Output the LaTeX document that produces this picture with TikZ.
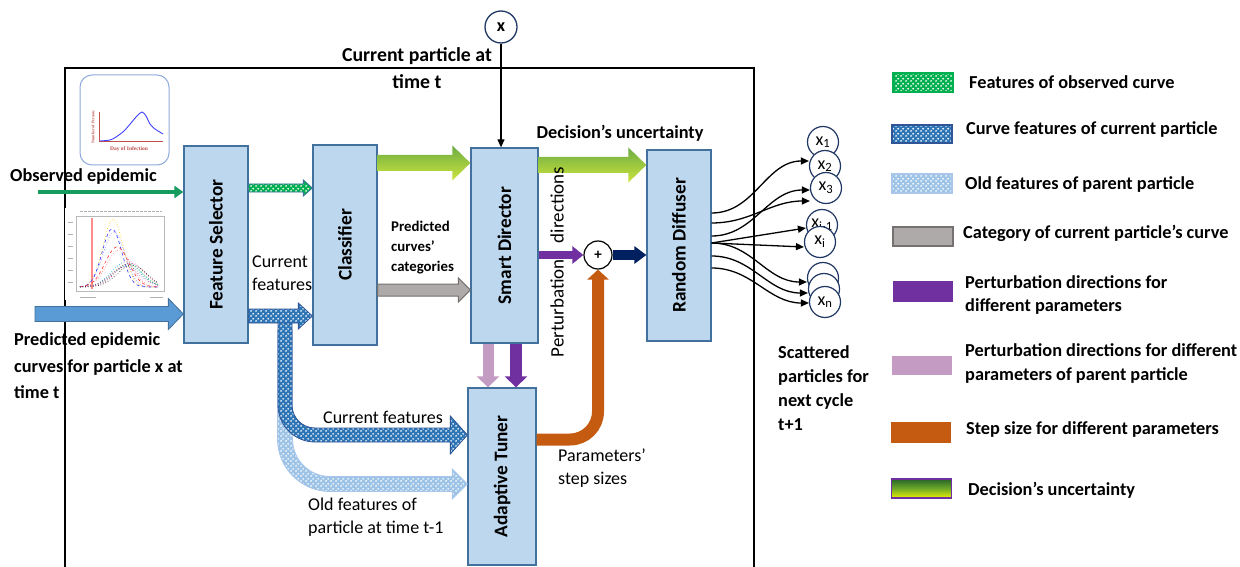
\documentclass[tikz,border=0pt]{standalone}
\usepackage{fontspec}
\setmainfont{Carlito}
\newfontfamily\tinyserif{Liberation Serif}
\usetikzlibrary{arrows.meta,calc,patterns}

\pgfdeclarepatternformonly{bubbles}{\pgfqpoint{0pt}{0pt}}{\pgfqpoint{5pt}{5pt}}{\pgfqpoint{5pt}{5pt}}{%
  \pgfpathcircle{\pgfqpoint{1.25pt}{1.25pt}}{1.1pt}%
  \pgfpathcircle{\pgfqpoint{3.75pt}{3.75pt}}{1.1pt}%
  \pgfusepath{fill}}

\definecolor{boxfill}{RGB}{189,215,238}
\definecolor{boxedge}{RGB}{65,113,156}
\definecolor{dkblue}{RGB}{46,117,182}
\definecolor{dkedge}{RGB}{47,85,151}
\definecolor{ltblue}{RGB}{157,195,230}
\definecolor{ltedge}{RGB}{170,199,235}
\definecolor{grn}{RGB}{0,176,80}
\definecolor{obsgreen}{RGB}{22,155,95}
\definecolor{bigblue}{RGB}{91,155,213}
\definecolor{grayf}{RGB}{174,170,170}
\definecolor{graye}{RGB}{118,113,113}
\definecolor{purp}{RGB}{112,48,160}
\definecolor{pinkc}{RGB}{195,155,195}
\definecolor{orng}{RGB}{197,90,17}
\definecolor{navyc}{RGB}{0,32,96}
\definecolor{navyb}{RGB}{31,56,100}
\definecolor{gtop}{RGB}{108,172,68}
\definecolor{gbot}{RGB}{205,228,60}
\definecolor{lgtop}{RGB}{40,100,40}
\definecolor{lgmid}{RGB}{110,170,40}
\definecolor{lgbot}{RGB}{235,240,0}
\definecolor{thumbedge}{RGB}{143,170,220}
\definecolor{axred}{RGB}{192,80,77}

% horizontal block arrow: #1 style, #2 start, #3 end, #4 shaft half, #5 head half, #6 head length
\newcommand\harrowpoly[6]{%
  \path[#1] let \p1=#2, \p2=#3 in
    (\x1,\y1+#4) -- (\x2-#6,\y1+#4) -- (\x2-#6,\y1+#5) -- (\x2,\y1)
    -- (\x2-#6,\y1-#5) -- (\x2-#6,\y1-#4) -- (\x1,\y1-#4) -- cycle;}

\begin{document}
\begin{tikzpicture}[x=1pt,y=-1pt,
  blk/.style={rectangle, draw=boxedge, fill=boxfill, line width=1.3pt, inner sep=0pt},
  lb/.style={font=\fontsize{18.3}{24}\selectfont\bfseries, inner sep=0pt, align=left},
  bl/.style={font=\fontsize{19.3}{24}\selectfont\bfseries, inner sep=0pt},
  tx/.style={font=\fontsize{18}{23}\selectfont, inner sep=0pt, align=left},
  sb/.style={font=\fontsize{14.8}{20}\selectfont\bfseries, inner sep=0pt, align=left},
  pdark/.style={preaction={fill=dkblue}, pattern=bubbles, pattern color=white, draw=dkedge, line width=0.8pt},
  plight/.style={preaction={fill=ltblue}, pattern=bubbles, pattern color=white, draw=ltedge, line width=0.8pt},
  pgreen/.style={preaction={fill=grn}, pattern=bubbles, pattern color=white, draw=boxedge, line width=0.8pt},
  gshade/.style={top color=gtop, bottom color=gbot},
  pc/.style={circle, draw=navyb, fill=white, line width=1.2pt, minimum size=31pt, inner sep=0pt, font=\fontsize{18}{18}\selectfont},
  pa/.style={-{Triangle[length=8pt,width=7pt]}, line width=1.3pt, black},
  lgbox/.style={rectangle, minimum width=60pt, inner sep=0pt, line width=1.2pt}
]
\useasboundingbox (0,0) rectangle (1240,567);
\fill[white] (0,0) rectangle (1240,567);

% frame
\draw[line width=1.2pt] (65,567) -- (65,68) -- (754,68) -- (754,567);

% thumbnail 1
\draw[thumbedge, fill=white, line width=1pt, rounded corners=12pt] (80,75) rectangle (169,165);
\draw[axred, line width=1pt] (99,112) -- (99,142) -- (163,142);
\draw[blue!75, line width=0.9pt] plot[smooth] coordinates {(100,141) (110,140) (116,137) (124,131) (131,123) (137,116) (142,112) (146,116) (150,124) (155,129) (163,134)};
\node[text=axred, font=\tinyserif\fontsize{4}{4}\selectfont\bfseries, rotate=90, inner sep=0pt] (nopT) at (93,127) {Number of Persons};
\node[text=axred, font=\tinyserif\fontsize{5.5}{5.5}\selectfont\bfseries, inner sep=0pt] (doiT) at (129,149) {Day of Infection};

% thumbnail 2 (plot)
\fill[white] (65,208) rectangle (172,300);
\draw[gray!55, line width=0.4pt] (76,216) rectangle (164,291);
\draw[gray!60, line width=1pt, dash pattern=on 3pt off 1pt] (80,211.5) -- (162,211.5);
\draw[gray!60, line width=0.9pt] (80,297) -- (96,297) (150,297) -- (163,297);
\foreach \yy in {222,234,246,258,270,282} \draw[gray!60, line width=0.8pt] (68,\yy) -- (73,\yy);
\draw[red!45, line width=1.3pt] (92,218) -- (92,289);
\draw[yellow!70!orange, dotted, line width=0.7pt] plot[domain=80:158,samples=50,smooth] (\x,{287-68*exp(-((\x-113)^2)/200)});
\draw[blue!80, dashed, line width=0.6pt] plot[domain=80:158,samples=50,smooth] (\x,{287-58*exp(-((\x-112)^2)/190)});
\draw[blue!60, dotted, line width=0.6pt] plot[domain=80:158,samples=50,smooth] (\x,{287-55*exp(-((\x-114)^2)/230)});
\draw[red!80, dashed, line width=0.6pt] plot[domain=80:158,samples=50,smooth] (\x,{287-40*exp(-((\x-117)^2)/280)});
\draw[red!60, dotted, line width=0.6pt] plot[domain=80:158,samples=50,smooth] (\x,{287-37*exp(-((\x-119)^2)/300)});
\foreach \pk/\hh/\cc in {126/25/cyan, 128/23/green!70!black, 130/24/magenta, 127/21/teal, 132/22/black, 129/26/pink, 125/20/violet} {
  \draw[\cc, dotted, line width=0.6pt] plot[domain=80:158,samples=50,smooth] (\x,{287-\hh*exp(-((\x-\pk)^2)/420)});
}

% main boxes
\node[blk, minimum width=64pt, minimum height=197pt] (fs) at (216,244.5) {};
\node[blk, minimum width=64pt, minimum height=200pt] (cl) at (345,245) {};
\node[blk, minimum width=67pt, minimum height=195pt] (sd) at (504.5,245.5) {};
\node[blk, minimum width=64pt, minimum height=191pt] (rd) at (679,245.5) {};
\node[blk, minimum width=68pt, minimum height=177pt] (at) at (502,476.5) {};
\node[bl, rotate=90] (fsT) at (fs.center) {Feature Selector};
\node[bl, rotate=90] (clT) at (cl.center) {Classifier};
\node[bl, rotate=90] (sdT) at (sd.center) {Smart Director};
\node[bl, rotate=90] (rdT) at (rd.center) {Random Diffuser};
\node[bl, rotate=90] (atT) at (at.center) {Adaptive Tuner};

% current particle x
\node[circle, draw=navyb, fill=white, line width=1.3pt, minimum size=32pt, inner sep=0pt, font=\fontsize{18}{18}\selectfont\bfseries] (xc) at (501,27) {x};
\draw[line width=1.2pt, -{Triangle[length=8pt,width=7pt]}] (xc.south) -- (xc.south |- sd.north);

% plus
\node[circle, draw=black, fill=white, line width=1.2pt, minimum size=28pt, inner sep=0pt, font=\fontsize{15}{15}\selectfont\bfseries] (plus) at (598,255) {+};

% inputs
\coordinate (obsS) at (38,192);
\coordinate (predS) at (35,314);
\draw[obsgreen, line width=4.5pt, -{Triangle[length=9pt,width=12pt]}] (obsS) -- (obsS -| fs.west);
\harrowpoly{fill=bigblue, draw=boxedge, line width=0.8pt}{(predS)}{(fs.west)}{7.5pt}{15.5pt}{15pt}

% curved feature arrows to adaptive tuner
\coordinate (ltS) at (285,330);
\coordinate (dkS) at (285,318);
\path[plight] let \p1=(ltS), \p2=([yshift=-7.5pt]at.west) in
  (\x1-7.5pt,\y1) -- (\x1-7.5pt,\y2+45pt) arc[start angle=180,end angle=270,radius=52.5pt]
  -- (\x2-15pt,\y2-7.5pt) -- (\x2-15pt,\y2-15pt) -- (\x2,\y2) -- (\x2-15pt,\y2+15pt) -- (\x2-15pt,\y2+7.5pt)
  -- (\x1+45pt,\y2+7.5pt) arc[start angle=270,end angle=180,radius=37.5pt] -- (\x1+7.5pt,\y1) -- cycle;
\path[pdark] let \p1=(dkS), \p2=([yshift=41.5pt]at.west) in
  (\x1-7pt,\y1) -- (\x1-7pt,\y2+30pt) arc[start angle=180,end angle=270,radius=37pt]
  -- (\x2-17pt,\y2-7pt) -- (\x2-17pt,\y2-19pt) -- (\x2,\y2) -- (\x2-17pt,\y2+19pt) -- (\x2-17pt,\y2+7pt)
  -- (\x1+30pt,\y2+7pt) arc[start angle=270,end angle=180,radius=23pt] -- (\x1+7pt,\y1) -- cycle;

% feature selector -> classifier
\harrowpoly{pgreen}{([yshift=56.5pt]fs.east)}{(cl.west)}{4pt}{8pt}{9pt}
\harrowpoly{pdark}{([yshift=-71.5pt]fs.east)}{(cl.west)}{7pt}{13pt}{14pt}

% classifier -> smart director
\harrowpoly{gshade}{([yshift=82pt]cl.east)}{(sd.west)}{8pt}{17.5pt}{18pt}
\harrowpoly{fill=grayf, draw=graye, line width=1pt}{([yshift=-45pt]cl.east)}{(sd.west)}{6pt}{12pt}{12pt}

% smart director -> random diffuser
\harrowpoly{gshade}{([yshift=80.5pt]sd.east)}{(rd.west)}{8pt}{17.5pt}{18pt}
\draw[purp, line width=8pt, -{Triangle[length=11pt,width=17pt]}] (sd.east |- plus.west) -- (plus.west);
\draw[navyc, line width=10pt, -{Triangle[length=12pt,width=17pt]}] (plus.east) -- (plus.east -| rd.west);

% smart director -> adaptive tuner
\draw[pinkc, line width=11pt, -{Triangle[length=11pt,width=22pt]}] ([xshift=-16.5pt]sd.south) -- ([xshift=-16.5pt]sd.south |- at.north);
\draw[purp, line width=12pt, -{Triangle[length=11pt,width=22pt]}] ([xshift=11.5pt]sd.south) -- ([xshift=11.5pt]sd.south |- at.north);

% adaptive tuner -> plus
\draw[orng, line width=12pt, rounded corners=28pt, -{Triangle[length=10pt,width=21pt]}] ([yshift=37pt]at.east) -| (plus.south);

% particles
\node[pc] (p1) at (823,142) {x\textsubscript{1}};
\node[pc] (p2) at (825,166) {x\textsubscript{2}};
\node[pc] (p3) at (826,188) {x\textsubscript{3}};
\node[pc] (p4) at (822,225) {x\textsubscript{i-1}};
\node[pc] (p5) at (820,242) {x\textsubscript{i}};
\node[pc] (p6) at (823,278) {};
\node[pc] (p7) at (824,289) {};
\node[pc] (p8) at (825,302) {x\textsubscript{n}};

\draw[pa] ([yshift=32.5pt]rd.east) to[out=0,in=180] ([yshift=5pt]p2.west);
\draw[pa] ([yshift=22.5pt]rd.east) to[out=0,in=180] ([yshift=-13pt]p3.west);
\draw[pa] ([yshift=9.5pt]rd.east) to[out=0,in=180] ([yshift=-2pt]p3.west);
\draw[pa] ([yshift=2.5pt]rd.east) -- ([yshift=-3pt]p4.west);
\draw[pa] ([yshift=2.5pt]rd.east) -- ([yshift=-5pt]p5.west);
\draw[pa] ([yshift=2.5pt]rd.east) to[out=0,in=180] ([yshift=-4pt]p6.west);
\draw[pa] ([yshift=-10.5pt]rd.east) to[out=0,in=180] ([yshift=-4pt]p7.west);
\draw[pa] ([yshift=-22.5pt]rd.east) to[out=0,in=180] ([yshift=-1pt]p8.west);

% labels
\node[lb, anchor=west] (obsT) at (10,177) {Observed epidemic};
\node[lb, anchor=west, font=\fontsize{18.3}{26.5}\selectfont\bfseries] (predT) at (14,366) {Predicted epidemic\\curves for particle x at\\time t};
\node[lb, align=center, font=\fontsize{19.8}{27}\selectfont\bfseries] (curT) at (417,68.5) {Current particle at\\time t};
\node[lb] (decT) at (620,133) {Decision’s uncertainty};
\node[tx, anchor=west] (cf1T) at (252,273) {Current\\features};
\node[sb, anchor=west] (pccT) at (391,248) {Predicted\\curves’\\categories};
\node[tx, rotate=90, font=\fontsize{19}{19}\selectfont] (pdT) at (557,262) {Perturbation\hspace{16pt}directions};
\node[tx, anchor=west] (pssT) at (558,468.5) {Parameters’\\step sizes};
\node[tx, anchor=west] (cf2T) at (323,417) {Current features};
\node[tx, anchor=west] (oldT) at (308,517) {Old features of\\particle at time t-1};
\node[lb, anchor=west] (scT) at (778,388) {Scattered\\particles for\\next cycle\\t+1};

% legend
\node[lgbox, minimum height=19pt, preaction={fill=grn}, pattern=bubbles, pattern color=white, draw=grn] (lg1) at (923,82.5) {};
\node[lgbox, minimum height=18pt, preaction={fill=dkblue}, pattern=bubbles, pattern color=white, draw=dkedge] (lg2) at (922,134) {};
\node[lgbox, minimum height=19pt, preaction={fill=ltblue}, pattern=bubbles, pattern color=white, draw=ltedge] (lg3) at (922,183.5) {};
\node[lgbox, minimum height=19pt, fill=grayf, draw=graye, line width=1.6pt] (lg4) at (923,236.5) {};
\node[lgbox, minimum height=21pt, fill=purp] (lg5) at (923,291.5) {};
\node[lgbox, minimum height=19pt, fill=pinkc] (lg6) at (922,365.5) {};
\node[lgbox, minimum height=21pt, fill=orng] (lg7) at (920.5,432.5) {};
\node[lgbox, minimum height=19pt, top color=lgtop, bottom color=lgbot, middle color=lgmid, draw=purp] (lg8) at (921.5,488.5) {};

\node[lb, anchor=west] (lt1) at (969,82) {Features of observed curve};
\node[lb, anchor=west] (lt2) at (966,130) {Curve features of current particle};
\node[lb, anchor=west] (lt3) at (965,185) {Old features of parent particle};
\node[lb, anchor=west] (lt4) at (963,233) {Category of current particle’s curve};
\node[lb, anchor=west, font=\fontsize{18.3}{23.5}\selectfont\bfseries] (lt5) at (965,295) {Perturbation directions for\\different parameters};
\node[lb, anchor=west, font=\fontsize{18.3}{23.5}\selectfont\bfseries] (lt6) at (965,363.5) {Perturbation directions for different\\parameters of parent particle};
\node[lb, anchor=west] (lt7) at (966,430) {Step size for different parameters};
\node[lb, anchor=west] (lt8) at (968,490) {Decision’s uncertainty};
\end{tikzpicture}
\end{document}
